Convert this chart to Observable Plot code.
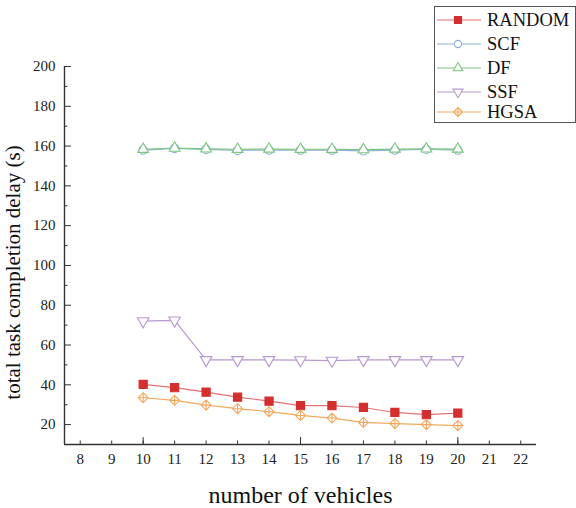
<!DOCTYPE html>
<html>
<head>
<meta charset="utf-8">
<script src="https://cdn.jsdelivr.net/npm/d3@7"></script>
<script src="https://cdn.jsdelivr.net/npm/@observablehq/plot@0.6"></script>
<style>
  body { margin: 0; background: #fff; }
  #wrap { position: relative; width: 576px; height: 508px; font-family: "Liberation Serif", "DejaVu Serif", serif; }
  #legend { position: absolute; left: 434px; top: 6px; overflow: visible; }
</style>
</head>
<body>
<div id="wrap"></div>
<script>
// ---- data ----
const vehicles = [10, 11, 12, 13, 14, 15, 16, 17, 18, 19, 20];
const randomDelay = [40.2, 38.6, 36.3, 33.8, 31.8, 29.5, 29.5, 28.6, 26.1, 25.0, 25.8];
const scfDelay = [158.0, 158.8, 158.3, 157.8, 158.0, 158.0, 158.0, 157.6, 158.0, 158.4, 158.0];
const dfDelay = [158.4, 159.0, 158.6, 158.4, 158.5, 158.4, 158.4, 158.2, 158.5, 158.6, 158.5];
const ssfDelay = [72.0, 72.4, 52.5, 52.5, 52.5, 52.4, 52.2, 52.5, 52.5, 52.5, 52.5];
const hgsaDelay = [33.5, 32.2, 29.8, 28.0, 26.5, 24.6, 23.3, 21.1, 20.5, 20.0, 19.5];

const seriesNames = ["RANDOM", "SCF", "DF", "SSF", "HGSA"];
const seriesValues = [randomDelay, scfDelay, dfDelay, ssfDelay, hgsaDelay];
const lineColors = ["#e57373", "#8fb0d6", "#7dc67d", "#b898d0", "#f5a860"];
const markColors = ["#d32f2f", "#8fb0d6", "#7dc67d", "#b898d0", "#f5a860"];
const markFills = ["#d32f2f", "white", "white", "white", "white"];

const xDomain = [7.5, 22.5];
const yDomain = [10, 200];
const xTickLabels = [8, 9, 10, 11, 12, 13, 14, 15, 16, 17, 18, 19, 20, 21, 22];
const xMajorTicks = [10, 15, 20];
const yTickLabels = [20, 40, 60, 80, 100, 120, 140, 160, 180, 200];
const yMinorTicks = [30, 50, 70, 90, 110, 130, 150, 170, 190];
const xTitle = "number of vehicles";
const yTitle = "total task completion delay (s)";

const serif = '"Liberation Serif", "Times New Roman", serif';

// ---- custom symbols ----
const symTriangleDown = {
  draw(ctx, size) {
    const s3 = Math.sqrt(3);
    const y = -Math.sqrt(size / (s3 * 3));
    ctx.moveTo(0, -y * 2);
    ctx.lineTo(-s3 * y, y);
    ctx.lineTo(s3 * y, y);
    ctx.closePath();
  }
};
const symDiamondPlus = {
  draw(ctx, size) {
    const h = Math.sqrt(size / 2);
    ctx.moveTo(0, -h); ctx.lineTo(h, 0); ctx.lineTo(0, h); ctx.lineTo(-h, 0); ctx.closePath();
    ctx.moveTo(0, -h); ctx.lineTo(0, h);
    ctx.moveTo(-h, 0); ctx.lineTo(h, 0);
  }
};
const symbols = [d3.symbolSquare, d3.symbolCircle, d3.symbolTriangle, symTriangleDown, symDiamondPlus];
const radii = [4.6, 4.2, 4.0, 4.3, 4.0];
const legendRadii = [4.0, 3.6, 3.5, 3.7, 3.6];

const rows = [];
seriesNames.forEach((name, si) => {
  vehicles.forEach((v, i) => rows.push({series: name, si, x: v, y: seriesValues[si][i]}));
});

const marks = [
  Plot.ruleX([xDomain[0]], {stroke: "#333", strokeWidth: 1.4}),
  Plot.ruleY([yDomain[0]], {stroke: "#333", strokeWidth: 1.4}),
  // y axis: labels, major & minor ticks (inward)
  Plot.text(yTickLabels, {y: d => d, text: d => String(d), frameAnchor: "left", textAnchor: "end", lineAnchor: "middle", dx: -9, fontSize: 15, fill: "#222", fontFamily: serif}),
  Plot.axisY(yTickLabels, {tickSize: -7, tickFormat: () => "", stroke: "#333"}),
  Plot.axisY(yMinorTicks, {tickSize: -3.5, tickFormat: () => "", stroke: "#333"}),
  // x axis
  Plot.text(xTickLabels, {x: d => d, text: d => String(d), frameAnchor: "bottom", textAnchor: "middle", lineAnchor: "top", dy: 9, fontSize: 15, fill: "#222", fontFamily: serif}),
  Plot.axisX(xTickLabels, {tickSize: -3.5, tickFormat: () => "", stroke: "#333"}),
  Plot.axisX(xMajorTicks, {tickSize: -7, tickFormat: () => "", stroke: "#333"}),
  // titles
  Plot.text([xTitle], {frameAnchor: "bottom", textAnchor: "middle", lineAnchor: "middle", dy: 51, fontSize: 24, fill: "#111", fontFamily: serif}),
  Plot.text([yTitle], {frameAnchor: "left", textAnchor: "middle", lineAnchor: "middle", dx: -51, dy: 17, rotate: -90, fontSize: 21, fill: "#111", fontFamily: serif})
];
seriesNames.forEach((name, si) => {
  const d = rows.filter(r => r.si === si);
  marks.push(Plot.line(d, {x: "x", y: "y", stroke: lineColors[si], strokeWidth: 1.2}));
});
seriesNames.forEach((name, si) => {
  const d = rows.filter(r => r.si === si);
  marks.push(Plot.dot(d, {x: "x", y: "y", symbol: () => symbols[si], r: radii[si], stroke: markColors[si], fill: markFills[si], strokeWidth: 1.1}));
});

const chart = Plot.plot({
  width: 576,
  height: 508,
  marginLeft: 64,
  marginRight: 40,
  marginTop: 66,
  marginBottom: 64,
  style: {fontFamily: serif, background: "white"},
  x: {domain: xDomain, label: null, axis: null},
  y: {domain: yDomain, label: null, axis: null},
  symbol: {type: "identity"},
  marks
});
document.getElementById("wrap").appendChild(chart);

// ---- legend ----
const lw = 142, lh = 117;
const leg = d3.select("#wrap").append("svg").attr("id", "legend").attr("width", lw).attr("height", lh + 10);
leg.append("rect").attr("x", 0.5).attr("y", 0.5).attr("width", lw - 1).attr("height", lh - 1)
  .attr("fill", "white").attr("stroke", "#555").attr("stroke-width", 1);
const legendY = [14, 38, 62, 86, 106];
seriesNames.forEach((name, si) => {
  const g = leg.append("g").attr("transform", `translate(0,${legendY[si]})`);
  g.append("line").attr("x1", 3).attr("x2", 47).attr("y1", 0).attr("y2", 0)
    .attr("stroke", lineColors[si]).attr("stroke-width", 1.2);
  g.append("path").attr("transform", "translate(24,0)")
    .attr("d", d3.symbol(symbols[si], Math.PI * legendRadii[si] * legendRadii[si])())
    .attr("fill", markFills[si]).attr("stroke", markColors[si]).attr("stroke-width", 1.1);
  g.append("text").attr("x", 53).attr("y", 0).attr("dy", "0.35em")
    .attr("font-size", 18.5).attr("fill", "#111").attr("font-family", serif).text(name);
});
</script>
</body>
</html>
